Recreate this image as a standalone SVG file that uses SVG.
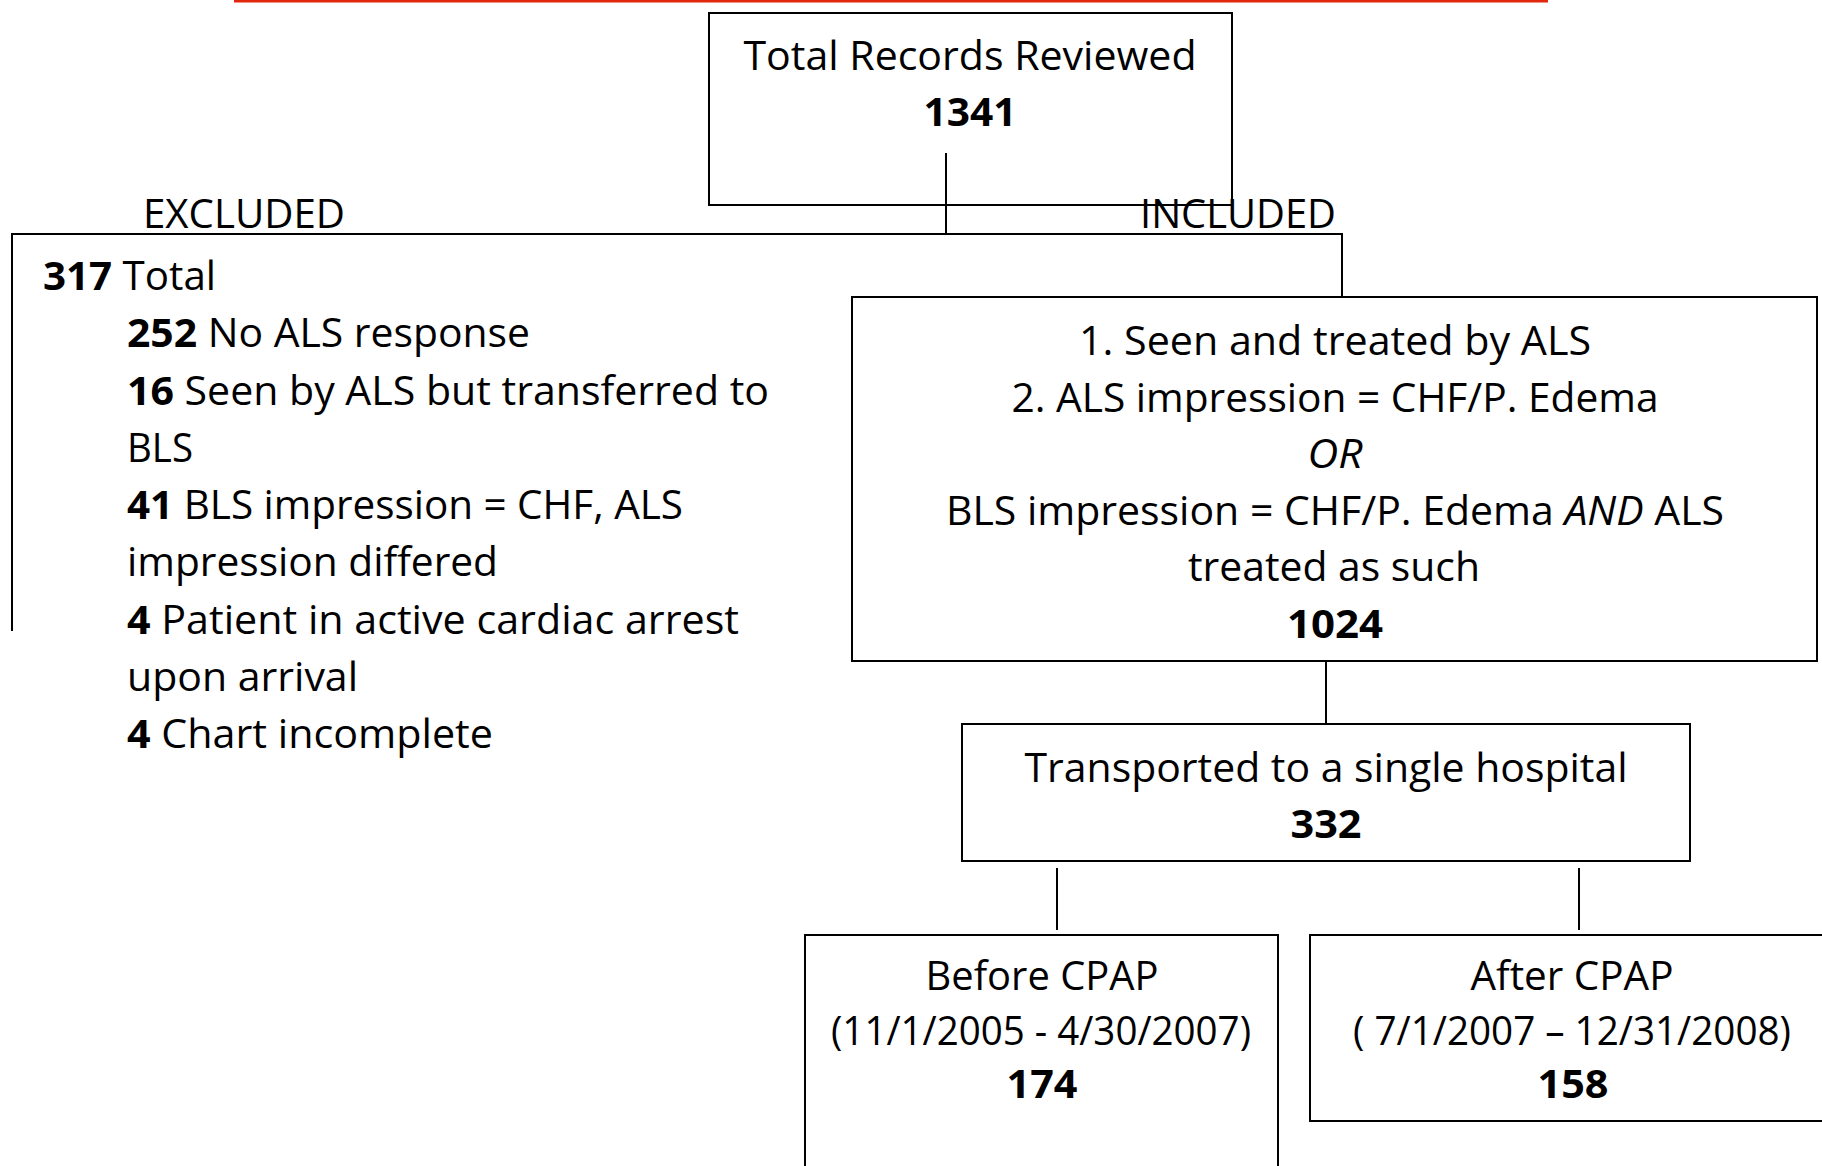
<svg xmlns="http://www.w3.org/2000/svg" width="1822" height="1166" viewBox="0 0 1822 1166">
<style>
text{font-family:"Open Sans","Noto Sans","Liberation Sans",sans-serif;font-size:40px;fill:#000}
.c{text-anchor:middle}
.b{font-weight:bold}
.i{font-style:italic}
.box{fill:#fff;stroke:#000;stroke-width:2}
.ln{fill:none;stroke:#000;stroke-width:2}
</style>
<rect width="1822" height="1166" fill="#fff"/>
<line x1="234" y1="1" x2="1548" y2="1" stroke="#e3260e" stroke-width="3"/>
<g id="connectors">
<line class="ln" x1="946" y1="153" x2="946" y2="234"/>
<polyline class="ln" points="12,631 12,234 1342,234 1342,297"/>
<line class="ln" x1="1326" y1="661" x2="1326" y2="724"/>
<line class="ln" x1="1057" y1="868" x2="1057" y2="930"/>
<line class="ln" x1="1579" y1="868" x2="1579" y2="930"/>
</g>
<g id="total">
<rect class="box" x="709" y="13" width="523" height="192" fill="none" style="fill:none"/>
<text class="c" x="970" y="70" textLength="453" lengthAdjust="spacingAndGlyphs">Total Records Reviewed</text>
<text class="c b" x="970" y="126" textLength="93" lengthAdjust="spacingAndGlyphs">1341</text>
</g>
<g id="excluded">
<text x="143" y="228" textLength="202" lengthAdjust="spacingAndGlyphs">EXCLUDED</text>
<text x="43" y="290" textLength="173" lengthAdjust="spacingAndGlyphs"><tspan class="b">317</tspan> Total</text>
<text x="127" y="347" textLength="403" lengthAdjust="spacingAndGlyphs"><tspan class="b">252</tspan> No ALS response</text>
<text x="127" y="405" textLength="642" lengthAdjust="spacingAndGlyphs"><tspan class="b">16</tspan> Seen by ALS but transferred to</text>
<text x="127" y="462" textLength="66" lengthAdjust="spacingAndGlyphs">BLS</text>
<text x="127" y="519" textLength="556" lengthAdjust="spacingAndGlyphs"><tspan class="b">41</tspan> BLS impression = CHF, ALS</text>
<text x="127" y="576" textLength="371" lengthAdjust="spacingAndGlyphs">impression differed</text>
<text x="127" y="634" textLength="612" lengthAdjust="spacingAndGlyphs"><tspan class="b">4</tspan> Patient in active cardiac arrest</text>
<text x="127" y="691" textLength="231" lengthAdjust="spacingAndGlyphs">upon arrival</text>
<text x="127" y="748" textLength="366" lengthAdjust="spacingAndGlyphs"><tspan class="b">4</tspan> Chart incomplete</text>
</g>
<g id="included">
<text x="1140" y="228" textLength="196" lengthAdjust="spacingAndGlyphs">INCLUDED</text>
<rect class="box" x="852" y="297" width="965" height="364"/>
<text class="c" x="1335" y="355" textLength="512" lengthAdjust="spacingAndGlyphs">1. Seen and treated by ALS</text>
<text class="c" x="1335" y="412" textLength="647" lengthAdjust="spacingAndGlyphs">2. ALS impression = CHF/P. Edema</text>
<text class="c i" x="1335" y="468" textLength="55" lengthAdjust="spacingAndGlyphs">OR</text>
<text class="c" x="1335" y="525" textLength="778" lengthAdjust="spacingAndGlyphs">BLS impression = CHF/P. Edema <tspan class="i">AND</tspan> ALS</text>
<text class="c" x="1334" y="581" textLength="292" lengthAdjust="spacingAndGlyphs">treated as such</text>
<text class="c b" x="1335" y="638" textLength="96" lengthAdjust="spacingAndGlyphs">1024</text>
</g>
<g id="transported">
<rect class="box" x="962" y="724" width="728" height="137"/>
<text class="c" x="1326" y="782" textLength="603" lengthAdjust="spacingAndGlyphs">Transported to a single hospital</text>
<text class="c b" x="1326" y="838" textLength="71" lengthAdjust="spacingAndGlyphs">332</text>
</g>
<g id="before">
<rect class="box" x="805" y="935" width="473" height="300"/>
<text class="c" x="1042" y="990" textLength="233" lengthAdjust="spacingAndGlyphs">Before CPAP</text>
<text class="c" x="1041" y="1045" textLength="420" lengthAdjust="spacingAndGlyphs">(11/1/2005 - 4/30/2007)</text>
<text class="c b" x="1042" y="1098" textLength="71" lengthAdjust="spacingAndGlyphs">174</text>
</g>
<g id="after">
<rect class="box" x="1310" y="935" width="530" height="186"/>
<text class="c" x="1572" y="990" textLength="203" lengthAdjust="spacingAndGlyphs">After CPAP</text>
<text class="c" x="1572" y="1045" textLength="438" lengthAdjust="spacingAndGlyphs">( 7/1/2007 – 12/31/2008)</text>
<text class="c b" x="1573" y="1098" textLength="71" lengthAdjust="spacingAndGlyphs">158</text>
</g>
</svg>
